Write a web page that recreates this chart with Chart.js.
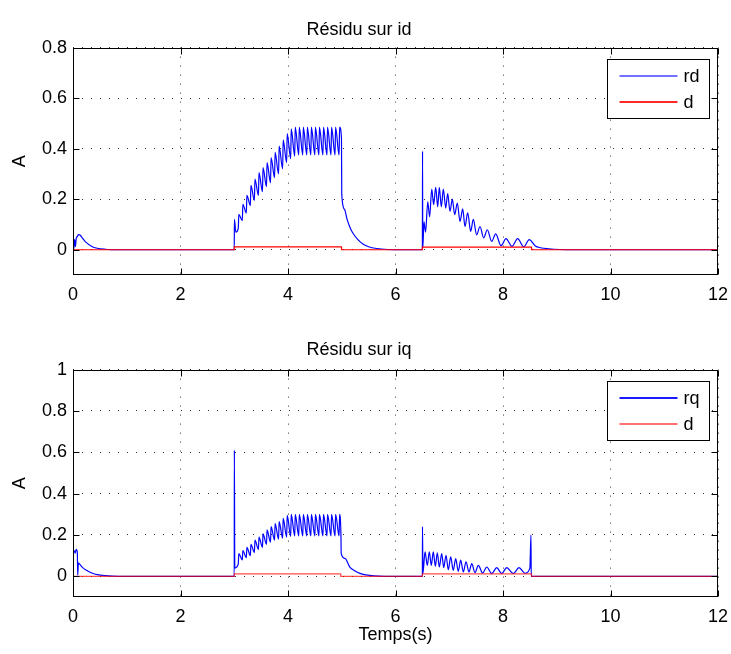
<!DOCTYPE html>
<html>
<head>
<meta charset="utf-8">
<title>Résidus</title>
<script src="https://cdn.jsdelivr.net/npm/chart.js"></script>
<style>
  body { margin: 0; background: #fff; }
  canvas { display: block; }
</style>
</head>
<body>
<canvas id="chartId" width="731" height="320"></canvas>
<canvas id="chartIq" width="731" height="334"></canvas>

<script>
    // tick positions
    var xTicks = [0, 2, 4, 6, 8, 10, 12];
    var yTicksId = [0, 0.2, 0.4, 0.6, 0.8];
    var yTicksIq = [0, 0.2, 0.4, 0.6, 0.8, 1];

    // residual on id : [time (s), value (A)]
    var rdPoints = [
        [0, 0], [0.005, 0.09], [0.012, 0], [0.03, 0.04], [0.045, 0.012], [0.06, 0.045],
        [0.08, 0.052], [0.1, 0.06], [0.13, 0.058], [0.18, 0.045], [0.25, 0.028], [0.35, 0.013],
        [0.45, 0.006], [0.6, 0.002], [0.8, 0], [3.0, 0],
        [3.003, 0.12], [3.03, 0.07],
        [3.075, 0.085], [3.085, 0.14], [3.15, 0.115], [3.16, 0.18], [3.225, 0.145], [3.235, 0.215],
        [3.3, 0.175], [3.31, 0.255], [3.375, 0.195], [3.385, 0.28], [3.45, 0.215], [3.46, 0.305],
        [3.525, 0.23], [3.535, 0.325], [3.6, 0.25], [3.61, 0.345], [3.675, 0.265], [3.685, 0.365],
        [3.75, 0.285], [3.76, 0.385], [3.825, 0.3], [3.835, 0.41], [3.9, 0.32], [3.91, 0.435],
        [3.975, 0.345], [3.985, 0.46], [4.05, 0.36], [4.06, 0.478], [4.125, 0.37], [4.135, 0.485],
        [4.2, 0.375], [4.21, 0.485], [4.275, 0.375], [4.285, 0.485], [4.35, 0.375], [4.36, 0.485],
        [4.425, 0.375], [4.435, 0.485], [4.5, 0.375], [4.51, 0.485], [4.575, 0.375], [4.585, 0.485],
        [4.65, 0.375], [4.66, 0.485], [4.725, 0.375], [4.735, 0.485], [4.8, 0.375], [4.81, 0.485],
        [4.875, 0.375], [4.885, 0.485], [4.95, 0.375], [4.96, 0.485],
        [4.995, 0.44], [5.0, 0.22], [5.05, 0.16], [5.1, 0.12], [5.15, 0.09], [5.2, 0.068],
        [5.3, 0.04], [5.4, 0.022], [5.5, 0.012], [5.65, 0.005], [5.85, 0.001], [6.1, 0], [6.5, 0],
        [6.503, 0.39], [6.507, 0.005], [6.53, 0.11], [6.56, 0.07], [6.6, 0.19], [6.635, 0.13],
        [6.674, 0.24], [6.71, 0.178], [6.748, 0.247], [6.785, 0.17], [6.815, 0.247], [6.852, 0.17],
        [6.89, 0.24], [6.934, 0.165], [6.971, 0.222], [7.014, 0.152], [7.057, 0.2], [7.101, 0.139],
        [7.15, 0.185], [7.2, 0.112], [7.25, 0.162], [7.293, 0.092], [7.343, 0.146], [7.399, 0.073],
        [7.447, 0.12], [7.51, 0.059], [7.572, 0.092], [7.64, 0.047], [7.708, 0.079], [7.79, 0.033],
        [7.864, 0.063], [7.963, 0.016], [8.056, 0.044], [8.167, 0.013], [8.273, 0.044], [8.385, 0.012],
        [8.489, 0.04], [8.6, 0.015], [8.7, 0.008], [8.85, 0.004], [9.05, 0.001], [9.3, 0], [12, 0]
    ];

    // fault signal shown on the id plot
    var dIdPoints = [
        [0, 0], [3.0, 0], [3.001, 0.011], [4.995, 0.011], [4.996, 0],
        [6.5, 0], [6.501, 0.01], [8.53, 0.01], [8.531, 0], [12, 0]
    ];

    // residual on iq : [time (s), value (A)]
    var rqPoints = [
        [0, 0], [0.003, 0.11], [0.02, 0.125], [0.04, 0.112], [0.06, 0.13], [0.08, 0.12],
        [0.088, 0.005], [0.1, 0.065], [0.12, 0.06], [0.18, 0.042], [0.25, 0.029], [0.35, 0.016],
        [0.45, 0.008], [0.6, 0.003], [0.85, 0], [3.0, 0],
        [3.002, 0.61], [3.01, 0.04],
        [3.075, 0.06], [3.085, 0.11], [3.15, 0.08], [3.16, 0.125], [3.225, 0.09], [3.235, 0.14],
        [3.3, 0.1], [3.31, 0.155], [3.375, 0.115], [3.385, 0.175], [3.45, 0.13], [3.46, 0.19],
        [3.525, 0.14], [3.535, 0.205], [3.6, 0.155], [3.61, 0.225], [3.675, 0.165], [3.685, 0.24],
        [3.75, 0.175], [3.76, 0.255], [3.825, 0.18], [3.835, 0.265], [3.9, 0.185], [3.91, 0.28],
        [3.975, 0.19], [3.985, 0.295], [4.05, 0.193], [4.06, 0.3], [4.125, 0.195], [4.135, 0.3],
        [4.2, 0.195], [4.21, 0.3], [4.275, 0.195], [4.285, 0.3], [4.35, 0.195], [4.36, 0.3],
        [4.425, 0.195], [4.435, 0.3], [4.5, 0.195], [4.51, 0.3], [4.575, 0.195], [4.585, 0.3],
        [4.65, 0.195], [4.66, 0.3], [4.725, 0.195], [4.735, 0.3], [4.8, 0.195], [4.81, 0.3],
        [4.875, 0.195], [4.885, 0.3], [4.95, 0.195], [4.96, 0.3],
        [4.985, 0.2], [4.99, 0.11], [5.06, 0.087], [5.15, 0.045], [5.25, 0.026], [5.34, 0.014],
        [5.45, 0.007], [5.6, 0.002], [5.8, 0], [6.5, 0],
        [6.502, 0.24], [6.51, 0.013], [6.549, 0.118], [6.592, 0.053], [6.629, 0.118], [6.666, 0.053],
        [6.703, 0.118], [6.741, 0.049], [6.778, 0.113], [6.815, 0.045], [6.86, 0.11], [6.897, 0.042],
        [6.94, 0.102], [6.982, 0.032], [7.027, 0.094], [7.075, 0.029], [7.12, 0.086], [7.168, 0.024],
        [7.213, 0.078], [7.262, 0.021], [7.312, 0.07], [7.367, 0.021], [7.418, 0.061], [7.479, 0.018],
        [7.541, 0.053], [7.622, 0.016], [7.697, 0.045], [7.79, 0.013], [7.883, 0.042], [7.976, 0.013],
        [8.069, 0.042], [8.192, 0.013], [8.298, 0.042], [8.409, 0.015], [8.5, 0.04],
        [8.52, 0.2], [8.525, 0], [12, 0]
    ];

    // fault signal shown on the iq plot
    var dIqPoints = [
        [0, 0], [3.0, 0], [3.001, 0.012], [4.98, 0.012], [4.981, 0],
        [6.5, 0], [6.501, 0.012], [8.53, 0.012], [8.531, 0], [12, 0]
    ];

    var FONT = '"Liberation Sans", Arial, Helvetica, sans-serif';

    function toXY(pts) {
        return pts.map(function (p) { return { x: p[0], y: p[1] }; });
    }

    // matlab look: box frame, inward ticks, boxed legend
    function matlabPlugin(legendItems) {
        return {
            id: 'matlabFrame',
            afterDraw: function (chart) {
                var ctx = chart.ctx;
                var a = chart.chartArea;
                var l = Math.round(a.left) + 0.5, r = Math.round(a.right) - 0.5;
                var t = Math.round(a.top) + 0.5, b = Math.round(a.bottom) - 0.5;
                ctx.save();
                ctx.setLineDash([]);
                ctx.strokeStyle = '#000';
                ctx.lineWidth = 1;
                ctx.strokeRect(l, t, r - l, b - t);

                ctx.beginPath();
                chart.scales.x.ticks.forEach(function (tk) {
                    var px = Math.round(chart.scales.x.getPixelForValue(tk.value)) + 0.5;
                    ctx.moveTo(px, b); ctx.lineTo(px, b - 6);
                    ctx.moveTo(px, t); ctx.lineTo(px, t + 6);
                });
                chart.scales.y.ticks.forEach(function (tk) {
                    var py = Math.round(chart.scales.y.getPixelForValue(tk.value)) + 0.5;
                    ctx.moveTo(l, py); ctx.lineTo(l + 6, py);
                    ctx.moveTo(r, py); ctx.lineTo(r - 6, py);
                });
                ctx.stroke();

                // legend box
                var bw = 102, bh = 59;
                var bx = Math.round(a.right - 9 - bw) + 0.5;
                var by = Math.round(a.top + 11) + 0.5;
                ctx.fillStyle = '#fff';
                ctx.fillRect(bx, by, bw, bh);
                ctx.strokeStyle = '#000';
                ctx.strokeRect(bx, by, bw, bh);
                ctx.font = '18px ' + FONT;
                ctx.textBaseline = 'middle';
                ctx.textAlign = 'left';
                for (var i = 0; i < legendItems.length; i++) {
                    var it = legendItems[i];
                    var ly = Math.round(by + 16 + i * 26);
                    ctx.fillStyle = it.color;
                    ctx.fillRect(bx + 12, ly - 1, 58, 2);
                    ctx.fillStyle = '#000';
                    ctx.fillText(it.label, bx + 76, ly + 1);
                }
                ctx.restore();
            }
        };
    }

    function makeChart(canvasId, cfg) {
        var ctx = document.getElementById(canvasId).getContext('2d');
        return new Chart(ctx, {
            type: 'line',
            data: { datasets: cfg.datasets },
            plugins: [matlabPlugin(cfg.legend)],
            options: {
                responsive: false,
                animation: false,
                events: [],
                layout: { padding: { left: 0, right: 13, top: 0, bottom: 0 } },
                elements: { point: { radius: 0 } },
                plugins: {
                    legend: { display: false },
                    tooltip: { enabled: false },
                    title: {
                        display: true,
                        text: cfg.title,
                        color: '#000',
                        font: { family: FONT, size: 18, weight: 'normal' },
                        padding: { top: 19, bottom: cfg.titleGap }
                    }
                },
                scales: {
                    x: {
                        type: 'linear',
                        min: 0,
                        max: 12,
                        afterBuildTicks: function (s) {
                            s.ticks = xTicks.map(function (v) { return { value: v }; });
                        },
                        afterFit: function (s) {
                            s.height = cfg.xHeight;
                            s.paddingLeft = 0;
                            s.paddingRight = 0;
                        },
                        grid: { color: 'rgba(0,0,0,0.8)', lineWidth: 1, drawTicks: false },
                        border: { display: false, dash: [1, 8] },
                        ticks: {
                            color: '#000',
                            font: { family: FONT, size: 18 },
                            padding: 9,
                            maxRotation: 0,
                            autoSkip: false,
                            callback: function (v) { return String(v); }
                        },
                        title: {
                            display: cfg.xTitle !== '',
                            text: cfg.xTitle,
                            color: '#000',
                            font: { family: FONT, size: 18 },
                            padding: { top: 0, bottom: 8 }
                        }
                    },
                    y: {
                        type: 'linear',
                        min: -0.1,
                        max: cfg.yMax,
                        afterBuildTicks: function (s) {
                            s.ticks = cfg.yTicks.map(function (v) { return { value: v }; });
                        },
                        afterFit: function (s) {
                            s.width = 73;
                            s.paddingTop = 0;
                            s.paddingBottom = 0;
                        },
                        grid: { color: 'rgba(0,0,0,0.8)', lineWidth: 1, drawTicks: false },
                        border: { display: false, dash: [1, 8] },
                        ticks: {
                            color: '#000',
                            font: { family: FONT, size: 18 },
                            padding: 6,
                            callback: function (v) { return String(v); }
                        },
                        title: {
                            display: true,
                            text: 'A',
                            color: '#000',
                            font: { family: FONT, size: 18 },
                            padding: { top: 9, bottom: 0 }
                        }
                    }
                }
            }
        });
    }

    makeChart('chartId', {
        title: 'Résidu sur id',
        titleGap: 7,
        xHeight: 45,
        xTitle: '',
        yMax: 0.8,
        yTicks: yTicksId,
        legend: [{ label: 'rd', color: '#7272ff' }, { label: 'd', color: '#ff2a2a' }],
        datasets: [
            { label: 'rd', data: toXY(rdPoints), borderColor: '#0000ff', borderWidth: 1.2,
              cubicInterpolationMode: 'monotone', fill: false, order: 1 },
            { label: 'd', data: toXY(dIdPoints), borderColor: '#ff0000', borderWidth: 1.2,
              tension: 0, fill: false, order: 0 }
        ]
    });

    makeChart('chartIq', {
        title: 'Résidu sur iq',
        titleGap: 9,
        xHeight: 57,
        xTitle: 'Temps(s)',
        yMax: 1,
        yTicks: yTicksIq,
        legend: [{ label: 'rq', color: '#1a1aff' }, { label: 'd', color: '#ff7272' }],
        datasets: [
            { label: 'rq', data: toXY(rqPoints), borderColor: '#0000ff', borderWidth: 1.2,
              cubicInterpolationMode: 'monotone', fill: false, order: 1 },
            { label: 'd', data: toXY(dIqPoints), borderColor: 'rgba(255,0,0,0.7)', borderWidth: 1.2,
              tension: 0, fill: false, order: 0 }
        ]
    });
</script>
</body>
</html>
